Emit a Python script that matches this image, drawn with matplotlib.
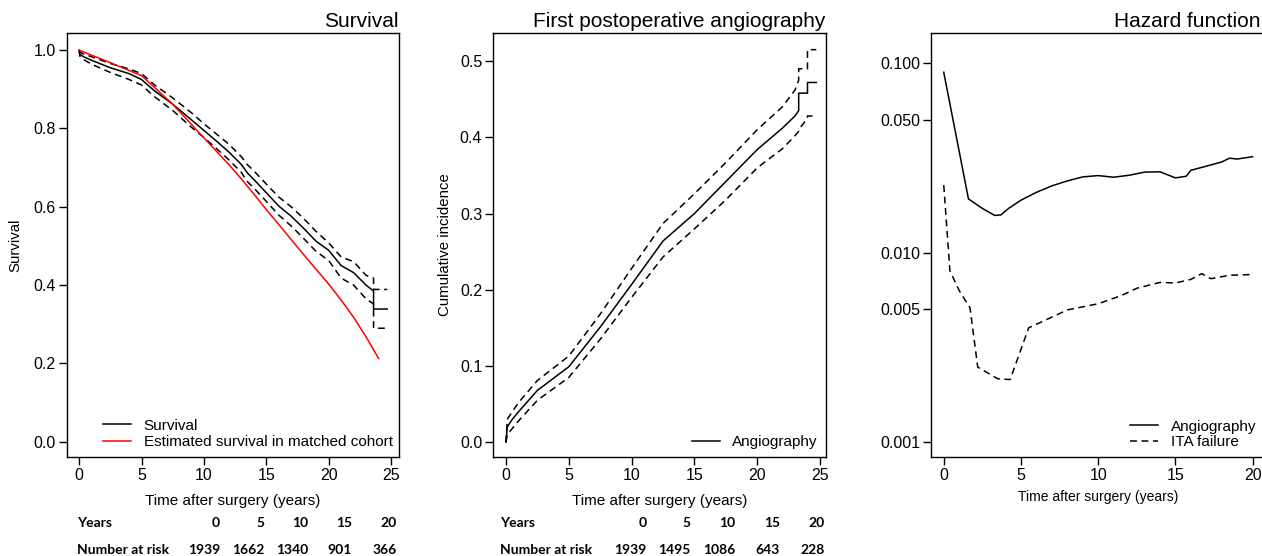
import numpy as np
import matplotlib
matplotlib.use("Agg")
import matplotlib.pyplot as plt
from matplotlib.ticker import FixedLocator, FormatStrFormatter, NullLocator

# -----------------------------------------------------------
# DATA
# -----------------------------------------------------------
# Survival panel (Kaplan-Meier with 95% CI, plus matched cohort)
surv_t = [0, 0.05, 0.3, 1, 2.5, 4, 5, 6, 7.5, 9, 10, 11, 12, 13, 13.5, 14, 15,
          16, 17, 18, 19, 20, 21, 22, 23, 23.6, 23.6, 24.7]
surv_est = [1.0, 0.99, 0.984, 0.974, 0.955, 0.940, 0.925, 0.897, 0.862, 0.822,
            0.795, 0.768, 0.740, 0.708, 0.686, 0.670, 0.636, 0.602, 0.576,
            0.545, 0.512, 0.489, 0.450, 0.432, 0.400, 0.385, 0.339, 0.339]
surv_lo = [1.0, 0.985, 0.977, 0.964, 0.943, 0.925, 0.911, 0.882, 0.846, 0.803,
           0.777, 0.749, 0.720, 0.688, 0.664, 0.648, 0.614, 0.579, 0.551,
           0.519, 0.486, 0.463, 0.418, 0.400, 0.365, 0.352, 0.290, 0.290]
surv_hi = [1.0, 0.995, 0.991, 0.983, 0.966, 0.952, 0.940, 0.912, 0.878, 0.840,
           0.812, 0.786, 0.760, 0.728, 0.707, 0.692, 0.658, 0.625, 0.600,
           0.570, 0.537, 0.508, 0.472, 0.460, 0.425, 0.418, 0.389, 0.389]

cohort_t = [0, 2.5, 5, 7.5, 10, 11, 12, 13, 14, 15, 16, 17.5, 19, 20, 21, 22,
            23, 24]
cohort_surv = [1.0, 0.968, 0.935, 0.862, 0.776, 0.742, 0.708, 0.671, 0.633,
               0.593, 0.555, 0.497, 0.440, 0.403, 0.362, 0.318, 0.268, 0.213]

# First postoperative angiography (cumulative incidence with 95% CI)
ang_t = [0, 0.1, 0.5, 1, 2.5, 5, 7.5, 10, 12.5, 15, 17.5, 20, 22, 23, 23.3,
         23.3, 24, 24, 24.7]
ang_ci = [0, 0.02, 0.03, 0.040, 0.068, 0.099, 0.151, 0.207, 0.264, 0.300,
          0.342, 0.384, 0.412, 0.428, 0.435, 0.458, 0.458, 0.472, 0.472]
ang_lo = [0, 0.01, 0.018, 0.028, 0.055, 0.085, 0.135, 0.190, 0.243, 0.280,
          0.318, 0.360, 0.385, 0.402, 0.408, 0.410, 0.425, 0.428, 0.428]
ang_hi = [0, 0.03, 0.040, 0.052, 0.081, 0.113, 0.168, 0.228, 0.287, 0.326,
          0.367, 0.410, 0.440, 0.462, 0.475, 0.490, 0.490, 0.515, 0.515]

# Hazard function (log scale)
haz_t = [0, 1.6, 2.5, 3.3, 3.7, 4.2, 5, 6, 7, 8, 9, 10, 11, 12, 13, 14, 15,
         15.7, 16, 17, 18, 18.5, 19, 20]
haz_angio = [0.0897, 0.0192, 0.0171, 0.0157, 0.0158, 0.0171, 0.0189, 0.0208,
             0.0225, 0.0239, 0.0251, 0.0255, 0.0250, 0.0256, 0.0266, 0.0267,
             0.0248, 0.0253, 0.0272, 0.0286, 0.0301, 0.0315, 0.0312, 0.0321]
ita_t = [0, 0.4, 1, 1.7, 2.2, 3.5, 4.3, 5.5, 6.5, 8, 10, 11.5, 12.5, 14, 15,
         16, 16.7, 17.3, 18.5, 20]
haz_ita = [0.0227, 0.0080, 0.0063, 0.0051, 0.00248, 0.00215, 0.00213, 0.0040,
           0.00436, 0.00497, 0.00536, 0.00592, 0.00647, 0.00695, 0.0069,
           0.00721, 0.00773, 0.00727, 0.00758, 0.00765]

# Number-at-risk tables
risk_years = [0, 5, 10, 15, 20]
risk_surv = [1939, 1662, 1340, 901, 366]
risk_angio = [1939, 1495, 1086, 643, 228]

# -----------------------------------------------------------
# STYLE
# -----------------------------------------------------------
plt.rcParams["font.family"] = ["Liberation Sans", "DejaVu Sans"]
plt.rcParams["axes.linewidth"] = 1.0
plt.rcParams["xtick.major.size"] = 6
plt.rcParams["ytick.major.size"] = 6
plt.rcParams["xtick.major.pad"] = 2
plt.rcParams["ytick.major.pad"] = 2
plt.rcParams["xtick.labelsize"] = 11.5
plt.rcParams["ytick.labelsize"] = 11.5

W, H = 1262, 556
fig = plt.figure(figsize=(W / 100, H / 100), dpi=100)


def px_axes(left, right, top, bottom):
    return fig.add_axes([left / W, 1 - bottom / H, (right - left) / W, (bottom - top) / H])


DASH = (0, (4.5, 3))


def finish(ax, title, xlabel, xlabel_size=11, title_shift=0):
    # title flush with the right edge of the box (shifted left if asked)
    ax.annotate(title, xy=(1, 1), xycoords="axes fraction",
                xytext=(-title_shift, 2), textcoords="offset pixels",
                ha="right", va="bottom", fontsize=15)
    ax.set_xlabel(xlabel, fontsize=xlabel_size, labelpad=8)
    ax.tick_params(top=False, right=False, direction="out", width=1)


# -----------------------------------------------------------
# 1. SURVIVAL
# -----------------------------------------------------------
ax1 = px_axes(66.7, 399, 33.3, 456.7)
ax1.plot(surv_t, surv_est, color="black", lw=1.1, label="Survival")
ax1.plot(surv_t, surv_lo, color="black", lw=1.1, ls=DASH)
ax1.plot(surv_t, surv_hi, color="black", lw=1.1, ls=DASH)
ax1.plot(cohort_t, cohort_surv, color="red", lw=1.1,
         label="Estimated survival in matched cohort")
ax1.set_xlim(-1, 25.64)
ax1.set_ylim(-0.038, 1.043)
ax1.set_xticks([0, 5, 10, 15, 20, 25])
ax1.set_yticks([0, 0.2, 0.4, 0.6, 0.8, 1.0])
ax1.yaxis.set_major_formatter(FormatStrFormatter("%.1f"))
ax1.set_ylabel("Survival", fontsize=10.8)
ax1.yaxis.set_label_coords(-0.134, 0.5)
finish(ax1, "Survival", "Time after surgery (years)")
ax1.legend(loc="lower left", bbox_to_anchor=(0.108, 0.018), frameon=False,
           fontsize=11, borderpad=0, borderaxespad=0, handlelength=1.83,
           handletextpad=0.87, labelspacing=0.15)

# -----------------------------------------------------------
# 2. FIRST POSTOPERATIVE ANGIOGRAPHY
# -----------------------------------------------------------
ax2 = px_axes(493.3, 825.7, 33.3, 456.7)
ax2.plot(ang_t, ang_ci, color="black", lw=1.1, label="Angiography")
ax2.plot(ang_t, ang_lo, color="black", lw=1.1, ls=DASH)
ax2.plot(ang_t, ang_hi, color="black", lw=1.1, ls=DASH)
ax2.set_xlim(-1.01, 25.45)
ax2.set_ylim(-0.019, 0.5365)
ax2.set_xticks([0, 5, 10, 15, 20, 25])
ax2.set_yticks([0, 0.1, 0.2, 0.3, 0.4, 0.5])
ax2.yaxis.set_major_formatter(FormatStrFormatter("%.1f"))
ax2.set_ylabel("Cumulative incidence", fontsize=10.8)
ax2.yaxis.set_label_coords(-0.124, 0.5)
finish(ax2, "First postoperative angiography", "Time after surgery (years)")
ax2.legend(loc="lower left", bbox_to_anchor=(0.599, 0.018), frameon=False,
           fontsize=11, borderpad=0, borderaxespad=0, handlelength=1.83,
           handletextpad=0.75)

# -----------------------------------------------------------
# 3. HAZARD FUNCTION
# -----------------------------------------------------------
ax3 = px_axes(931, 1265, 33.3, 456.7)
ax3.plot(haz_t, haz_angio, color="black", lw=1.1, label="Angiography")
ax3.plot(ita_t, haz_ita, color="black", lw=1.1, ls=DASH, label="ITA failure")
ax3.set_yscale("log")
ax3.set_xlim(-0.825, 20.8)
ax3.set_ylim(0.000833, 0.1441)
ax3.set_xticks([0, 5, 10, 15, 20])
ax3.yaxis.set_major_locator(FixedLocator([0.001, 0.005, 0.01, 0.05, 0.1]))
ax3.yaxis.set_minor_locator(NullLocator())
ax3.yaxis.set_major_formatter(FormatStrFormatter("%.3f"))
finish(ax3, "Hazard function", "Time after surgery (years)", xlabel_size=10,
       title_shift=5)
ax3.xaxis.labelpad = 5
ax3.legend(loc="lower left", bbox_to_anchor=(0.596, 0.018), frameon=False,
           fontsize=11, borderpad=0, borderaxespad=0, handlelength=1.83,
           handletextpad=0.87, labelspacing=0.1)

# -----------------------------------------------------------
# 4. NUMBER AT RISK TABLES
# -----------------------------------------------------------
risk_font = dict(family=["Lato", "DejaVu Sans"], fontweight="bold", fontsize=10,
                 va="center")


def risk_table(x_label, x_cols, counts):
    fig.text(x_label / W, 1 - 522.7 / H, "Years", ha="left", **risk_font)
    fig.text(x_label / W, 1 - 550.3 / H, "Number at risk", ha="left", **risk_font)
    for xc, yr, n in zip(x_cols, risk_years, counts):
        fig.text(xc / W, 1 - 522.7 / H, str(yr), ha="right", **risk_font)
        fig.text(xc / W, 1 - 550.3 / H, str(n), ha="right", **risk_font)


risk_table(77, [220, 264, 308.3, 351.7, 396.7], risk_surv)
risk_table(500, [646.7, 690.7, 735, 780, 825], risk_angio)

fig.savefig("out.png", dpi=100)
